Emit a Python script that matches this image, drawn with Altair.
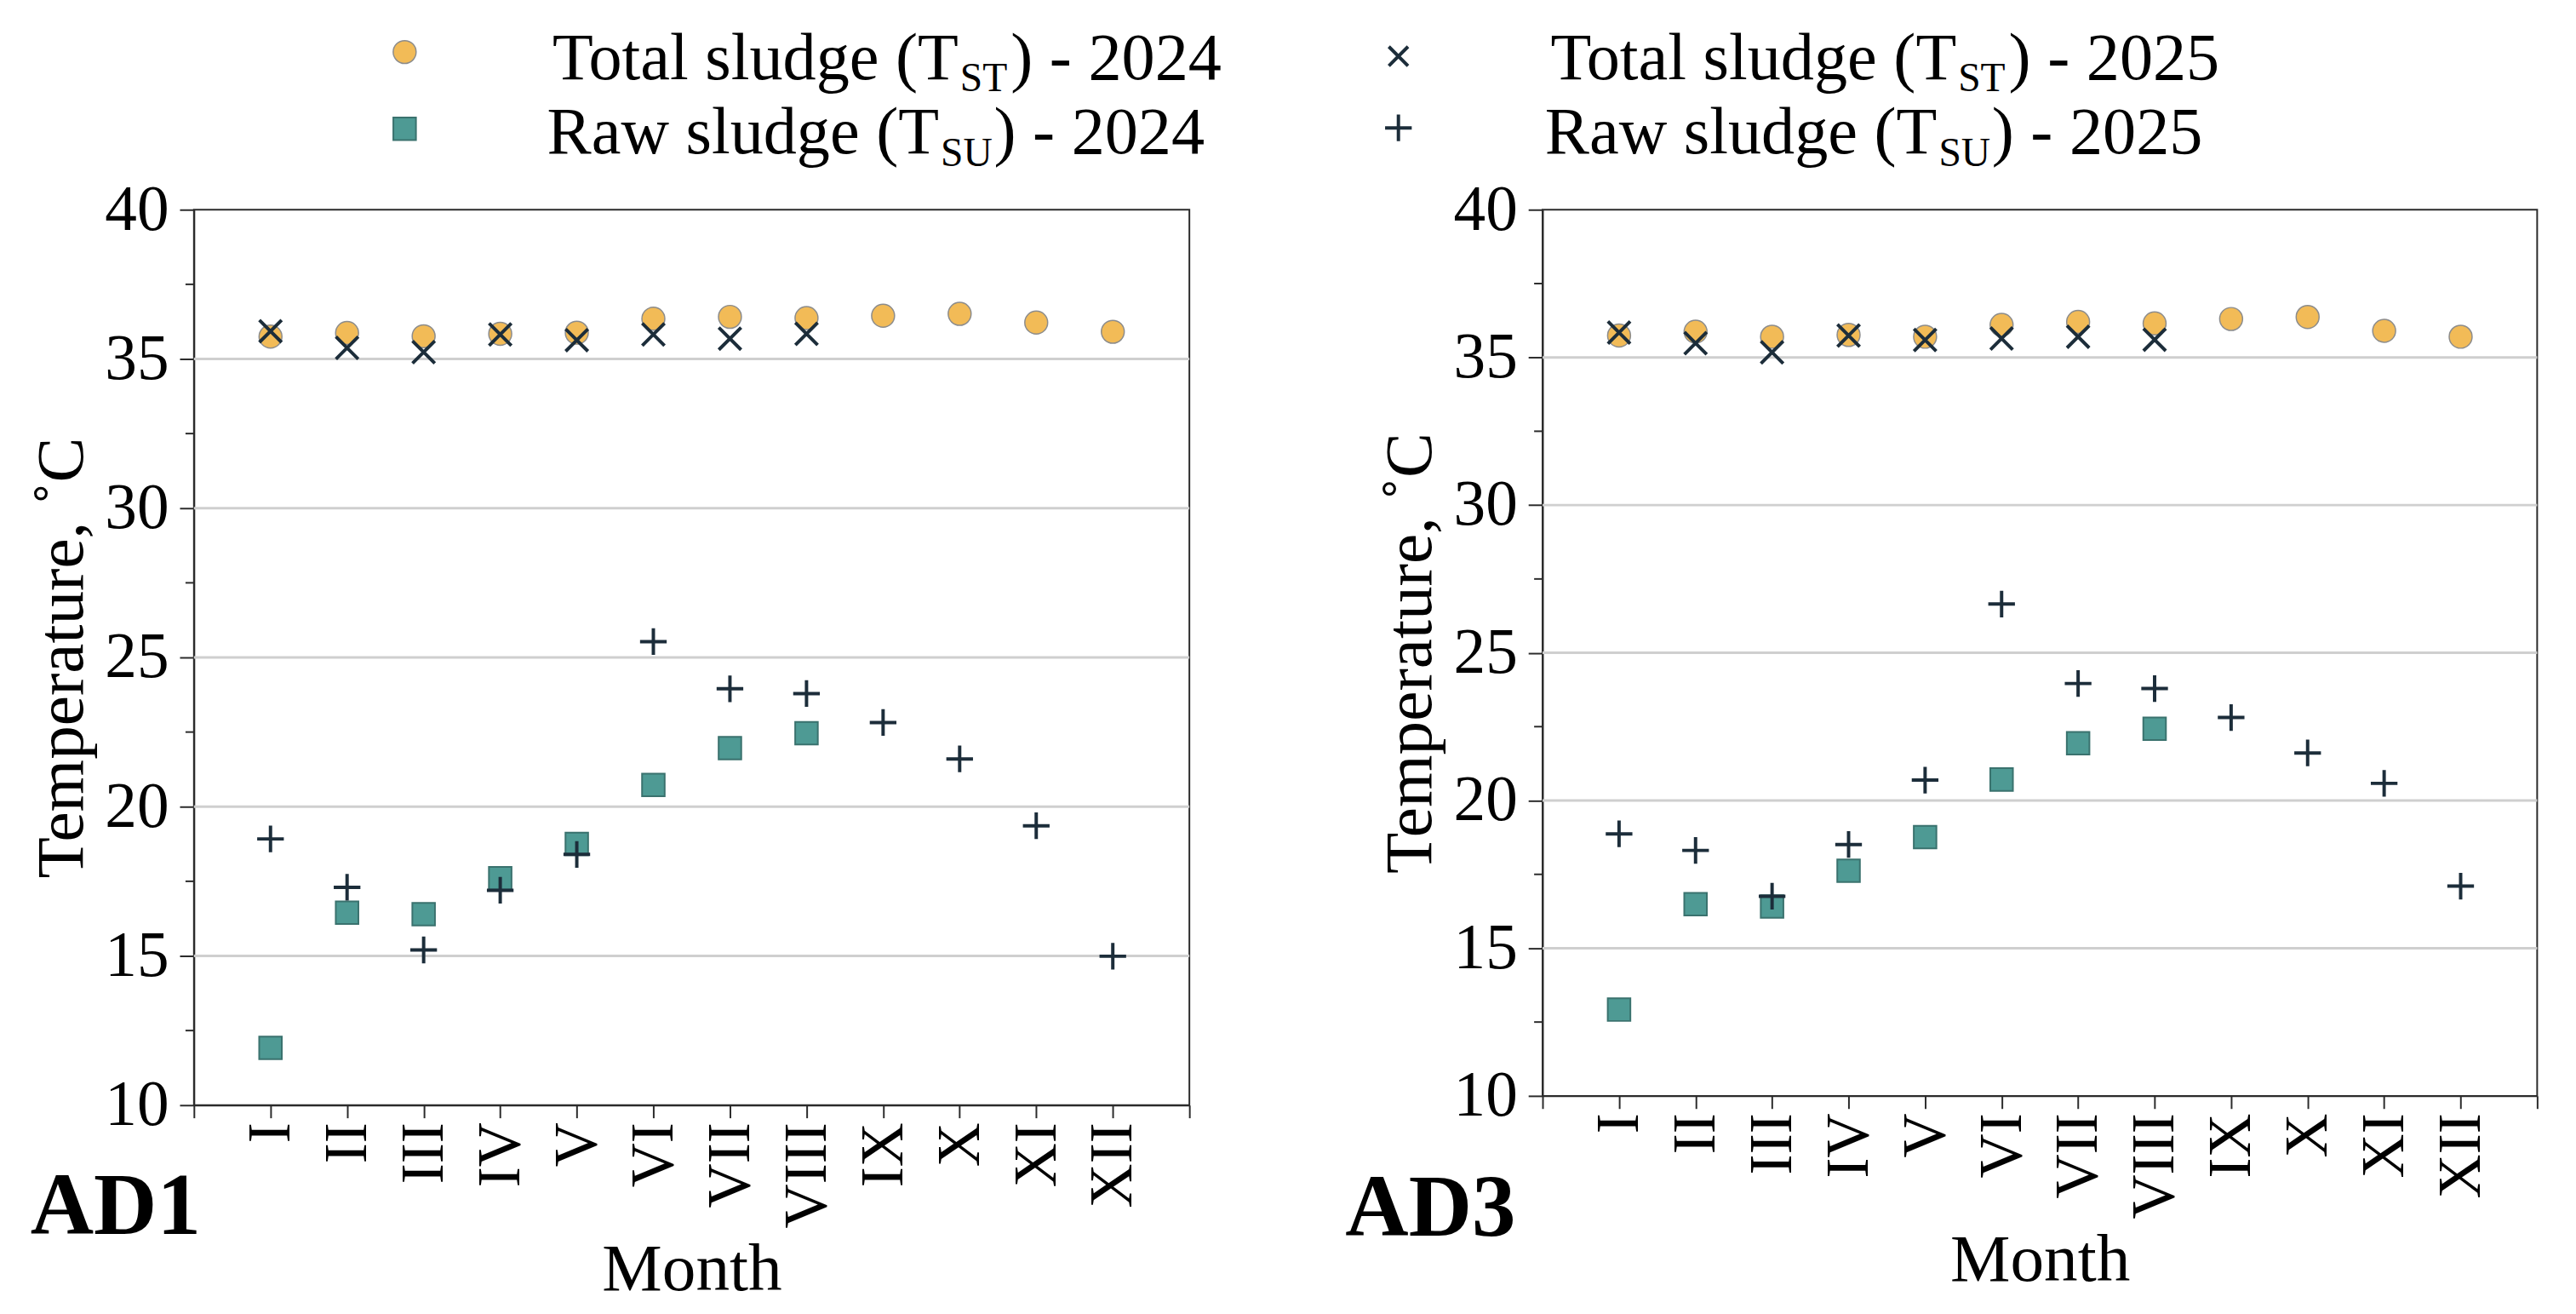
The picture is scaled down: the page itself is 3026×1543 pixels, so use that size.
import altair as alt
import pandas as pd

# ---------------- data ----------------
months = ["I", "II", "III", "IV", "V", "VI", "VII", "VIII", "IX", "X", "XI", "XII"]
month_no = list(range(1, 13))

# AD1
ad1_total_2024 = [35.75, 35.87, 35.76, 35.84, 35.88, 36.35, 36.41, 36.37, 36.45, 36.51, 36.22, 35.91]
ad1_total_2025 = [35.93, 35.37, 35.23, 35.82, 35.63, 35.82, 35.68, 35.84]
ad1_raw_2024 = [11.92, 16.45, 16.40, 17.60, 18.75, 20.73, 21.96, 22.46]
ad1_raw_2025 = [18.92, 17.30, 15.20, 17.20, 18.40, 25.53, 23.95, 23.79, 22.82, 21.60, 19.36, 14.99]

# AD3
ad3_total_2024 = [35.74, 35.87, 35.70, 35.76, 35.70, 36.10, 36.20, 36.15, 36.30, 36.37, 35.90, 35.70]
ad3_total_2025 = [35.84, 35.48, 35.17, 35.74, 35.59, 35.64, 35.70, 35.60]
ad3_raw_2024 = [12.92, 16.49, 16.41, 17.62, 18.76, 20.71, 21.94, 22.43]
ad3_raw_2025 = [18.87, 18.31, 16.76, 18.51, 20.69, 26.65, 23.96, 23.79, 22.81, 21.61, 20.58, 17.10]

y_ticks = [10, 15, 20, 25, 30, 35, 40]
grid_vals = [15, 20, 25, 30, 35]
minor_vals = [12.5, 17.5, 22.5, 27.5, 32.5, 37.5]

# ---------------- style ----------------
FONT = "Liberation Serif"
C_TOTAL = "#F2BB57"
C_TOTAL_EDGE = "#8c8c8c"
C_RAW = "#4E9A94"
C_RAW_EDGE = "#3A726E"
C_DARK = "#1C2D3A"
C_AX = "#2b2b2b"
C_GRID = "#cfcfcf"
X_PATH = "M-1,-1L1,1M-1,1L1,-1"
PLUS_PATH = "M-1,0L1,0M0,-1L0,1"

S_CIRCLE = 740
S_SQUARE = 720
S_X = 700
S_PLUS = 1000

label_expr = "[" + ",".join(["''"] + ["'%s'" % m for m in months] + ["''"]) + "][datum.value]"
dummy = pd.DataFrame({"a": [0]})


def sdf(vals):
    return pd.DataFrame({"m": month_no[:len(vals)], "v": vals})


def vdf(vals):
    return pd.DataFrame({"v": vals})


def panel(total24, total25, raw24, raw25, width, height, dx, year, ad_text, ad_pos, anchor):
    xs = alt.Scale(domain=[0, 13], nice=False, zero=False)
    ys = alt.Scale(domain=[10, 40], nice=False, zero=False)
    xaxis = alt.Axis(
        values=list(range(14)), labelExpr=label_expr, labelAngle=270,
        labelAlign="right", labelBaseline="middle", labelFont=FONT,
        labelFontSize=73, labelColor="black", labelPadding=5,
        labelOverlap=False, labelFlush=False,
        tickSize=15, tickWidth=2, tickColor=C_AX,
        domainColor=C_AX, domainWidth=2, grid=False,
        title="Month", titleFont=FONT, titleFontSize=80, titleFontWeight="normal",
        titleColor="black", titleX=width / 2, titleY=219, titleAngle=0,
        titleAlign="center", titleBaseline="alphabetic",
    )
    yaxis = alt.Axis(
        values=y_ticks, labelFont=FONT, labelFontSize=76, labelColor="black",
        labelPadding=13, labelOverlap=False, labelFlush=False,
        tickSize=17, tickWidth=2, tickColor=C_AX,
        domainColor=C_AX, domainWidth=2, grid=False,
        title="Temperature, ˚C", titleFont=FONT, titleFontSize=80,
        titleFontWeight="normal", titleColor="black",
        titleX=-133, titleY=height / 2, titleAngle=270,
        titleAlign="center", titleBaseline="alphabetic",
    )

    def X():
        return alt.X("m:Q", scale=xs, axis=xaxis)

    def Y():
        return alt.Y("v:Q", scale=ys, axis=yaxis)

    grid = alt.Chart(vdf(grid_vals)).mark_rule(color=C_GRID, strokeWidth=3).encode(y=Y())
    minor = alt.Chart(vdf(minor_vals)).mark_rule(color=C_AX, strokeWidth=2).encode(
        y=Y(), x=alt.value(-10), x2=alt.value(0))

    circ = alt.Chart(sdf(total24)).mark_point(
        shape="circle", filled=True, fill=C_TOTAL, stroke=C_TOTAL_EDGE,
        strokeWidth=1.5, size=S_CIRCLE, opacity=1).encode(x=X(), y=Y())
    sq = alt.Chart(sdf(raw24)).mark_point(
        shape="square", filled=True, fill=C_RAW, stroke=C_RAW_EDGE,
        strokeWidth=2, size=S_SQUARE, opacity=1).encode(x=X(), y=Y())
    xm = alt.Chart(sdf(total25)).mark_point(
        shape=X_PATH, filled=False, stroke=C_DARK, strokeWidth=4,
        size=S_X, opacity=1).encode(x=X(), y=Y())
    pl = alt.Chart(sdf(raw25)).mark_point(
        shape=PLUS_PATH, filled=False, stroke=C_DARK, strokeWidth=4,
        size=S_PLUS, opacity=1).encode(x=X(), y=Y())

    layers = [grid, minor, circ, sq, xm, pl]

    # legend column (symbols)
    if year == "2024":
        layers.append(alt.Chart(dummy).mark_point(
            shape="circle", filled=True, fill=C_TOTAL, stroke=C_TOTAL_EDGE,
            strokeWidth=1.5, size=S_CIRCLE, opacity=1).encode(x=alt.value(250), y=alt.value(-187)))
        layers.append(alt.Chart(dummy).mark_point(
            shape="square", filled=True, fill=C_RAW, stroke=C_RAW_EDGE,
            strokeWidth=2, size=S_SQUARE, opacity=1).encode(x=alt.value(250), y=alt.value(-96)))
    else:
        layers.append(alt.Chart(dummy).mark_point(
            shape=X_PATH, filled=False, stroke=C_DARK, strokeWidth=4,
            size=520, opacity=1).encode(x=alt.value(-171), y=alt.value(-182)))
        layers.append(alt.Chart(dummy).mark_point(
            shape=PLUS_PATH, filled=False, stroke=C_DARK, strokeWidth=4,
            size=S_PLUS, opacity=1).encode(x=alt.value(-171), y=alt.value(-97)))

    # legend text with subscripts
    rows = [
        ("Total sludge (T", "ST", ") - " + year, 907 + dx, 969 + dx, -155, -141),
        ("Raw sludge (T", "SU", ") - " + year, 884 + dx, 949 + dx, -67, -52),
    ]
    for main, sub, tail, xend, xtail, yb, ysub in rows:
        layers.append(alt.Chart(pd.DataFrame({"t": [main]})).mark_text(
            font=FONT, fontSize=79, align="right", baseline="alphabetic", color="black"
        ).encode(text="t:N", x=alt.value(xend), y=alt.value(yb)))
        layers.append(alt.Chart(pd.DataFrame({"t": [sub]})).mark_text(
            font=FONT, fontSize=48, align="left", baseline="alphabetic", color="black"
        ).encode(text="t:N", x=alt.value(xend + 2), y=alt.value(ysub)))
        layers.append(alt.Chart(pd.DataFrame({"t": [tail]})).mark_text(
            font=FONT, fontSize=79, align="left", baseline="alphabetic", color="black"
        ).encode(text="t:N", x=alt.value(xtail), y=alt.value(yb)))

    # panel tag
    layers.append(alt.Chart(pd.DataFrame({"t": [ad_text]})).mark_text(
        font=FONT, fontSize=104, fontWeight="bold", align="left",
        baseline="alphabetic", color="black"
    ).encode(text="t:N", x=alt.value(ad_pos[0]), y=alt.value(ad_pos[1])))

    # invisible layout anchor (white hairline at the top edge)
    layers.append(alt.Chart(dummy).mark_rule(color="white", strokeWidth=1).encode(
        x=alt.value(anchor[0]), x2=alt.value(anchor[1]), y=alt.value(-231)))

    return alt.layer(*layers).properties(width=width, height=height)


left = panel(ad1_total_2024, ad1_total_2025, ad1_raw_2024, ad1_raw_2025,
             1181, 1062, 0, "2024", "AD1", (-194, 1215), (-220, 1272))
right = panel(ad3_total_2024, ad3_total_2025, ad3_raw_2024, ad3_raw_2025,
              1180, 1051, -416, "2025", "AD3", (-234, 1217), (-264, -263))

chart = alt.hconcat(left, right, spacing=60).properties(
    padding=0, background="white"
).configure_view(stroke=C_AX, strokeWidth=2)

chart.save("out.html", embed_options={"renderer": "svg", "actions": False})
